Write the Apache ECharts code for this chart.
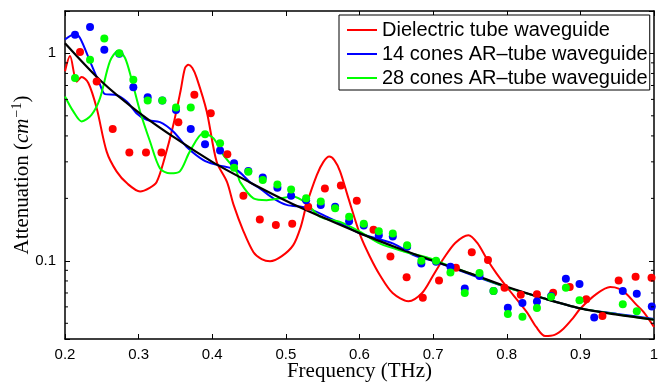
<!DOCTYPE html>
<html>
<head>
<meta charset="utf-8">
<script src="https://cdn.jsdelivr.net/npm/echarts@6/dist/echarts.min.js"></script>
<style>
  html, body { margin: 0; padding: 0; background: #fff; }
  #chart { width: 662px; height: 385px; }
</style>
</head>
<body>
<div id="chart"></div>
<script>
// power-law fit (black)
const fitFreq = [0.2, 0.25, 0.3, 0.35, 0.4, 0.45, 0.5, 0.55, 0.6, 0.65, 0.7, 0.75, 0.8, 0.85, 0.9, 0.95, 1.0];
const fitAtt = [1.12, 0.73, 0.52, 0.39, 0.30, 0.24, 0.195, 0.162, 0.136, 0.116, 0.100, 0.087, 0.075, 0.066, 0.059, 0.055, 0.052];

// dielectric tube waveguide (red line)
const dielFreq = [0.2, 0.2068, 0.216, 0.2226, 0.2317, 0.243, 0.2566, 0.27, 0.285, 0.302, 0.315, 0.3245, 0.335, 0.347, 0.357, 0.363, 0.3676, 0.373, 0.379, 0.3925, 0.406, 0.42, 0.429, 0.442, 0.456, 0.467, 0.4785, 0.494, 0.51, 0.52, 0.528, 0.542, 0.551, 0.559, 0.566, 0.5736, 0.585, 0.601, 0.614, 0.628, 0.645, 0.6665, 0.685, 0.7, 0.714, 0.73, 0.748, 0.76, 0.773, 0.786, 0.8, 0.827, 0.84, 0.852, 0.865, 0.877, 0.89, 0.9, 0.922, 0.9405, 0.952, 0.963, 0.975, 0.9857, 1.0];
const dielAtt = [0.82, 0.97, 0.73, 0.77, 0.72, 0.545, 0.336, 0.27, 0.235, 0.216, 0.225, 0.24, 0.31, 0.45, 0.66, 0.85, 0.88, 0.85, 0.76, 0.525, 0.30, 0.24, 0.186, 0.14, 0.110, 0.102, 0.0996, 0.105, 0.119, 0.145, 0.186, 0.259, 0.30, 0.318, 0.305, 0.27, 0.2, 0.133, 0.105, 0.085, 0.07, 0.0639, 0.07, 0.085, 0.1023, 0.122, 0.133, 0.122, 0.102, 0.087, 0.0748, 0.0568, 0.048, 0.0434, 0.044, 0.0471, 0.053, 0.0589, 0.0693, 0.0748, 0.0735, 0.069, 0.062, 0.0568, 0.048];

// 14 cones AR-tube waveguide (blue line)
const cone14Freq = [0.2, 0.2136, 0.2204, 0.234, 0.2476, 0.2544, 0.268, 0.2838, 0.297, 0.311, 0.329, 0.347, 0.365, 0.388, 0.406, 0.433, 0.451, 0.465, 0.483, 0.501, 0.528, 0.556, 0.583, 0.601, 0.646, 0.675, 0.7, 0.75, 0.8, 0.85, 0.9, 0.95, 1.0];
const cone14Att = [1.165, 1.24, 1.185, 0.915, 0.706, 0.636, 0.632, 0.586, 0.515, 0.478, 0.466, 0.42, 0.355, 0.306, 0.29, 0.274, 0.24, 0.223, 0.20, 0.186, 0.18, 0.163, 0.146, 0.1355, 0.121, 0.106, 0.100, 0.086, 0.0745, 0.066, 0.059, 0.0555, 0.0525];

// 28 cones AR-tube waveguide (green line)
const cone28Freq = [0.2, 0.2113, 0.2226, 0.236, 0.2476, 0.261, 0.2725, 0.2816, 0.2906, 0.302, 0.3155, 0.329, 0.3427, 0.356, 0.3695, 0.388, 0.4015, 0.415, 0.433, 0.4378, 0.456, 0.474, 0.492, 0.51, 0.528, 0.5465, 0.5736, 0.601, 0.628, 0.66, 0.691, 0.714, 0.75, 0.8, 0.85, 0.9, 0.95, 1.0];
const cone28Att = [0.62, 0.525, 0.47, 0.505, 0.608, 0.915, 1.03, 0.95, 0.746, 0.525, 0.376, 0.279, 0.264, 0.27, 0.336, 0.412, 0.39, 0.324, 0.269, 0.24, 0.2, 0.196, 0.20, 0.204, 0.189, 0.163, 0.154, 0.138, 0.121, 0.111, 0.104, 0.097, 0.087, 0.0745, 0.066, 0.059, 0.0552, 0.052];

// measured points
const dielDotFreq = [0.2204, 0.243, 0.2648, 0.2874, 0.31, 0.331, 0.354, 0.3757, 0.398, 0.4205, 0.4423, 0.4646, 0.4864, 0.5086, 0.5303, 0.553, 0.5747, 0.5963, 0.619, 0.642, 0.664, 0.686, 0.708, 0.731, 0.7525, 0.7745, 0.797, 0.819, 0.841, 0.863, 0.8855, 0.908, 0.93, 0.952, 0.975, 0.9966];
const dielDotAtt = [1.015, 0.732, 0.432, 0.333, 0.333, 0.333, 0.466, 0.632, 0.515, 0.326, 0.206, 0.158, 0.149, 0.151, 0.182, 0.223, 0.231, 0.195, 0.141, 0.105, 0.0833, 0.0664, 0.0805, 0.0926, 0.110, 0.101, 0.0741, 0.0686, 0.069, 0.0701, 0.0748, 0.0652, 0.0542, 0.0805, 0.0837, 0.0828];

const cone14DotFreq = [0.2136, 0.234, 0.2534, 0.2738, 0.2928, 0.3123, 0.3322, 0.3508, 0.3708, 0.3902, 0.4106, 0.4296, 0.449, 0.4686, 0.4885, 0.5071, 0.5275, 0.5474, 0.5669, 0.5859, 0.6058, 0.6262, 0.6452, 0.6647, 0.684, 0.704, 0.7235, 0.743, 0.763, 0.782, 0.8015, 0.8213, 0.841, 0.8603, 0.8803, 0.8988, 0.9188, 0.9576, 0.9766, 0.997];
const cone14DotAtt = [1.23, 1.34, 1.04, 0.996, 0.687, 0.615, 0.593, 0.534, 0.432, 0.365, 0.34, 0.295, 0.271, 0.252, 0.225, 0.206, 0.196, 0.186, 0.182, 0.155, 0.148, 0.133, 0.131, 0.117, 0.097, 0.099, 0.0937, 0.0735, 0.0846, 0.0716, 0.0594, 0.0627, 0.0637, 0.0677, 0.082, 0.0774, 0.0533, 0.0716, 0.0694, 0.0603];

const cone28DotFreq = [0.2136, 0.234, 0.2534, 0.2738, 0.2928, 0.3123, 0.3322, 0.3508, 0.3708, 0.3902, 0.4106, 0.4296, 0.449, 0.4686, 0.4885, 0.5071, 0.5275, 0.5474, 0.5669, 0.5859, 0.6058, 0.6262, 0.6452, 0.6647, 0.684, 0.704, 0.7235, 0.743, 0.763, 0.782, 0.8015, 0.8213, 0.841, 0.8603, 0.8803, 0.8988, 0.9576, 0.9766];
const cone28DotAtt = [0.76, 0.932, 1.18, 1.0, 0.746, 0.593, 0.593, 0.549, 0.549, 0.408, 0.369, 0.281, 0.269, 0.245, 0.233, 0.221, 0.2, 0.193, 0.179, 0.163, 0.151, 0.139, 0.1355, 0.119, 0.1, 0.1, 0.0878, 0.070, 0.0873, 0.0716, 0.0555, 0.0537, 0.0593, 0.0672, 0.0741, 0.0645, 0.0618, 0.0571];

const xTicks = [0.2, 0.3, 0.4, 0.5, 0.6, 0.7, 0.8, 0.9, 1];
const yMinorTicks = [0.05, 0.06, 0.07, 0.08, 0.09, 0.2, 0.3, 0.4, 0.5, 0.6, 0.7, 0.8, 0.9];

const names = ['Dielectric tube waveguide', '14 cones AR\u2013tube waveguide', '28 cones AR\u2013tube waveguide'];

const zip = (xs, ys) => xs.map((x, i) => [x, ys[i]]);
const sans = 'Liberation Sans';
const serif = 'Liberation Serif';

const chart = echarts.init(document.getElementById('chart'));

const xAxisBase = {
  type: 'value',
  min: xTicks[0],
  max: xTicks[xTicks.length - 1],
  interval: 0.1,
  splitLine: { show: false },
  axisLine: { lineStyle: { color: '#000', width: 1.5 } },
  axisTick: { inside: true, length: 5, lineStyle: { color: '#000' } }
};

const yAxisBase = {
  type: 'log',
  logBase: 10,
  min: 0.042,
  max: 1.6,
  splitLine: { show: false },
  axisLine: { show: true, lineStyle: { color: '#000', width: 1.5 } },
  axisTick: { inside: true, length: 5, lineStyle: { color: '#000' } }
};

const lineSeries = (name, data, color) => ({
  name,
  type: 'line',
  data,
  showSymbol: false,
  symbol: 'none',
  smooth: 0.3,
  lineStyle: { color, width: 2 },
  itemStyle: { color },
  z: 2,
  animation: false
});

const dotSeries = (name, data, color, z) => ({
  name,
  type: 'scatter',
  data,
  symbol: 'circle',
  symbolSize: 8,
  itemStyle: { color, opacity: 1 },
  z,
  animation: false
});

const option = {
  backgroundColor: '#fff',
  animation: false,
  grid: { left: 65, right: 8, top: 11, bottom: 46, outerBoundsMode: 'none', containLabel: false },
  legend: {
    data: names,
    orient: 'vertical',
    left: 339,
    top: 15,
    icon: 'rect',
    itemWidth: 30,
    itemHeight: 2,
    itemGap: 0,
    padding: [3, 2, 0, 8],
    backgroundColor: '#fff',
    borderColor: '#000',
    borderWidth: 1,
    borderRadius: 0,
    textStyle: { fontFamily: sans, fontSize: 20, color: '#000', lineHeight: 24 },
    selectedMode: false
  },
  xAxis: [
    Object.assign({}, xAxisBase, {
      position: 'bottom',
      name: 'Frequency (THz)',
      nameLocation: 'middle',
      nameGap: 22,
      nameMoveOverlap: false,
      nameTextStyle: { fontFamily: serif, fontSize: 21, color: '#000', verticalAlign: 'top' },
      axisLabel: {
        fontFamily: sans, fontSize: 15, color: '#000', margin: 8,
        formatter: v => String(+v.toFixed(1))
      }
    }),
    Object.assign({}, xAxisBase, {
      position: 'top',
      axisLabel: { show: false }
    })
  ],
  yAxis: [
    Object.assign({}, yAxisBase, {
      position: 'left',
      name: '{a|Attenuation (}{i|cm}{s|\u22121}{a|)}',
      nameLocation: 'middle',
      nameRotate: 90,
      nameGap: 31,
      nameMoveOverlap: false,
      nameTextStyle: {
        rich: {
          a: { fontFamily: serif, fontSize: 21, color: '#000' },
          i: { fontFamily: serif, fontSize: 21, fontStyle: 'italic', color: '#000' },
          s: { fontFamily: serif, fontSize: 14, color: '#000', padding: [0, 0, 10, 1] }
        }
      },
      axisLabel: {
        fontFamily: sans, fontSize: 15, color: '#000', margin: 9,
        formatter: v => (Math.abs(v - 1) < 1e-6 ? '1' : Math.abs(v - 0.1) < 1e-7 ? '0.1' : '')
      }
    }),
    Object.assign({}, yAxisBase, {
      position: 'right',
      axisLabel: { show: false }
    })
  ],
  series: [
    lineSeries(names[0], zip(dielFreq, dielAtt), '#ff0000'),
    lineSeries(names[1], zip(cone14Freq, cone14Att), '#0000ff'),
    lineSeries(names[2], zip(cone28Freq, cone28Att), '#00ff00'),
    {
      name: 'fit',
      type: 'line',
      data: zip(fitFreq, fitAtt),
      showSymbol: false,
      symbol: 'none',
      smooth: 0.3,
      lineStyle: { color: '#000', width: 2.2 },
      z: 3,
      animation: false
    },
    dotSeries('dielectric points', zip(dielDotFreq, dielDotAtt), '#ff0000', 4),
    dotSeries('14 cones points', zip(cone14DotFreq, cone14DotAtt), '#0000ff', 5),
    dotSeries('28 cones points', zip(cone28DotFreq, cone28DotAtt), '#00ff00', 6),
    {
      // minor log ticks on both vertical edges
      name: 'minor ticks',
      type: 'custom',
      data: yMinorTicks.map(v => [xTicks[0], v]),
      silent: true,
      clip: false,
      z: 10,
      renderItem: (params, api) => {
        const cs = params.coordSys;
        const y = api.coord([api.value(0), api.value(1)])[1];
        const st = { stroke: '#000', lineWidth: 1 };
        return {
          type: 'group',
          children: [
            { type: 'line', shape: { x1: cs.x, y1: y, x2: cs.x + 3, y2: y }, style: st },
            { type: 'line', shape: { x1: cs.x + cs.width - 3, y1: y, x2: cs.x + cs.width, y2: y }, style: st }
          ]
        };
      },
      animation: false
    }
  ]
};

chart.setOption(option);
</script>
</body>
</html>
